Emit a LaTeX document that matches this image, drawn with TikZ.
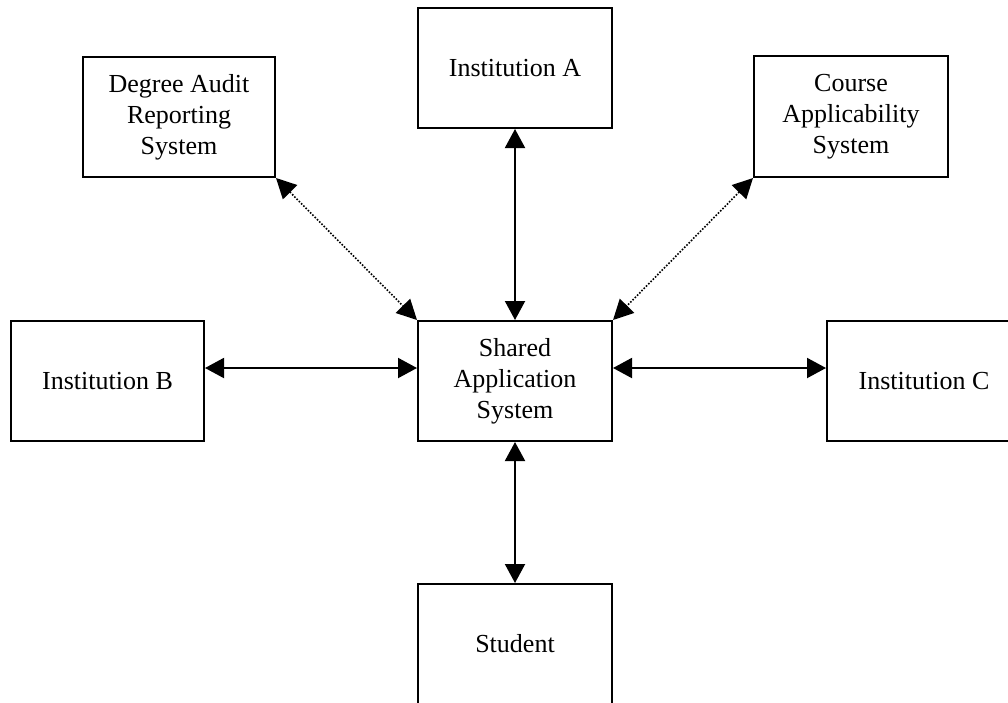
\documentclass[tikz,border=0pt]{standalone}
\usepackage{fontspec}
\setmainfont{Liberation Serif}
\usetikzlibrary{arrows.meta}
\begin{document}
\begin{tikzpicture}[x=1pt,y=-1pt,
  box/.style={draw,line width=2pt,minimum width=194pt,minimum height=120pt,inner sep=0pt,align=center,
    font=\fontsize{26}{31}\selectfont},
  link/.style={line width=2pt,{Triangle[length=19pt,width=20pt]}-{Triangle[length=19pt,width=20pt]}},
  dotlink/.style={line width=1.6pt,dash pattern=on 1.6pt off 1.6pt,{Triangle[length=20pt,width=20pt]}-{Triangle[length=20pt,width=20pt]}}]
\useasboundingbox (0,0) rectangle (1008,702);
\fill[white] (0,0) rectangle (1008,702);
\node[box,minimum width=192pt] (deg) at (179,117) {Degree Audit\\Reporting\\System};
\node[box] (instA) at (515,68) {Institution A};
\node[box,minimum height=121pt] (course) at (851,116.5) {Course\\Applicability\\System};
\node[box,minimum width=193pt] (instB) at (107.5,381) {Institution B};
\node[box] (shared) at (515,381) {Shared\\Application\\System};
\node[box] (instC) at (924,381) {Institution C};
\node[box] (student) at (515,644) {Student};
\draw[link] (instA.south) -- (shared.north);
\draw[link] (shared.south) -- (student.north);
\draw[link] ([yshift=13pt]instB.east) -- ([yshift=13pt]shared.west);
\draw[link] ([yshift=13pt]shared.east) -- ([yshift=13pt]instC.west);
\draw[dotlink] (deg.south east) -- (shared.north west);
\draw[dotlink] (course.south west) -- (shared.north east);
\end{tikzpicture}
\end{document}
